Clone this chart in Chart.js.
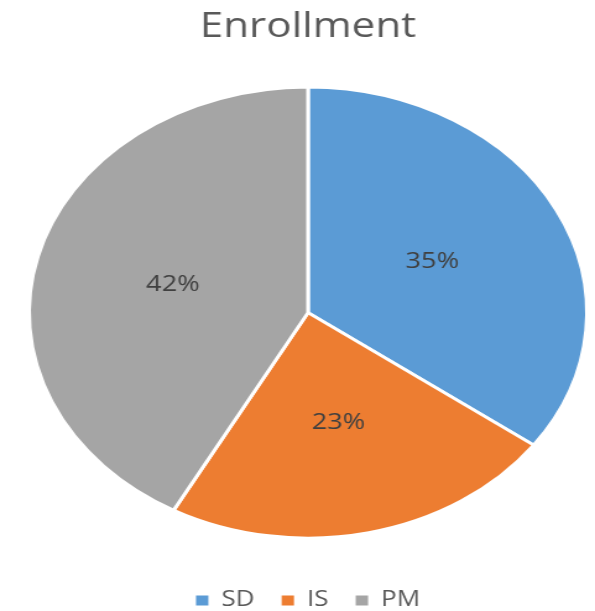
<!DOCTYPE html>
<html lang="en">
<head>
    <meta charset="UTF-8">
    <title>Enrollment</title>
    <script src="https://cdn.jsdelivr.net/npm/chart.js"></script>
    <style>
        body { margin: 0; background: #fff; }
        /* the reference is stretched sideways, so the canvas is drawn narrow and widened by css */
        #enrollChart { width: 595px !important; height: 611px !important; display: block; }
    </style>
</head>
<body>
<canvas id="enrollChart" width="481" height="611"></canvas>

<script>
const labels = ['SD', 'IS', 'PM'];
const shares = [35, 23, 42];
const colors = ['#5B9BD5', '#ED7D31', '#A5A5A5'];

// percent labels in the middle of each slice
const sliceLabels = {
    id: 'sliceLabels',
    afterDatasetsDraw(chart) {
        const ctx = chart.ctx;
        const meta = chart.getDatasetMeta(0);
        const total = shares.reduce((a, b) => a + b, 0);
        ctx.save();
        ctx.font = '22px "Open Sans"';
        ctx.fillStyle = '#404040';
        ctx.textAlign = 'center';
        ctx.textBaseline = 'middle';
        meta.data.forEach((arc, i) => {
            const p = arc.tooltipPosition();
            ctx.fillText(Math.round(shares[i] / total * 100) + '%', p.x, p.y);
        });
        ctx.restore();
    }
};

const pieLegendLabels = Chart.overrides.pie.plugins.legend.labels.generateLabels;

new Chart(document.getElementById('enrollChart'), {
    type: 'pie',
    data: {
        labels: labels,
        datasets: [{
            data: shares,
            backgroundColor: colors,
            borderColor: '#ffffff',
            borderWidth: 3
        }]
    },
    options: {
        responsive: false,
        animation: false,
        layout: { padding: { left: 22, right: 5, top: 0, bottom: -10 } },
        plugins: {
            title: {
                display: true,
                text: 'Enrollment',
                color: '#595959',
                font: { family: 'Open Sans', size: 34, weight: 'normal' },
                padding: { top: 7, bottom: 19 }
            },
            legend: {
                position: 'bottom',
                // empty title just pushes the legend row down a little
                title: { display: true, text: '', padding: 0, font: { size: 8 } },
                labels: {
                    color: '#595959',
                    font: { family: 'Open Sans', size: 21 },
                    boxWidth: 10,
                    boxHeight: 10,
                    padding: 22,
                    generateLabels: chart => pieLegendLabels(chart).map(item => ({ ...item, lineWidth: 0 }))
                }
            },
            tooltip: { enabled: false }
        }
    },
    plugins: [sliceLabels]
});
</script>
</body>
</html>
